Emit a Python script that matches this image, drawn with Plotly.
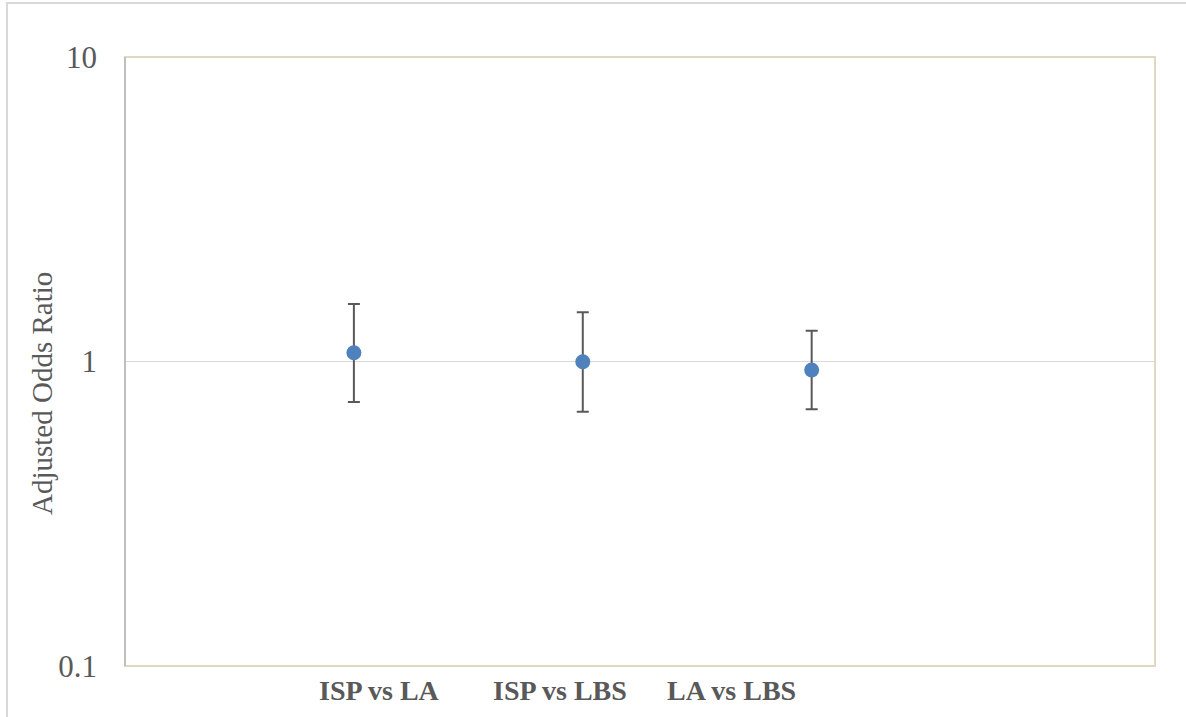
import plotly.graph_objects as go

categories = ["ISP vs LA", "ISP vs LBS", "LA vs LBS"]
positions = [1, 2, 3]
odds_ratio = [1.069, 0.998, 0.938]
ci_upper = [1.544, 1.451, 1.262]
ci_lower = [0.736, 0.684, 0.697]
label_left = [0.839, 1.599, 2.359]
y_ticks = [0.1, 1, 10]
y_tick_text = ["0.1", "1", "10"]

W, H = 1186, 717
ml, mr, mt, mb = 125, 31, 57, 51
pw, ph = W - ml - mr, H - mt - mb

def px_x(p):
    return (p - ml) / pw

def px_y(p):
    return 1 - (p - mt) / ph

fig = go.Figure()
fig.add_trace(go.Scatter(
    x=positions, y=odds_ratio, mode="markers",
    marker=dict(color="#4f81bd", size=15),
    error_y=dict(type="data", symmetric=False,
                 array=[u - v for u, v in zip(ci_upper, odds_ratio)],
                 arrayminus=[v - l for v, l in zip(odds_ratio, ci_lower)],
                 color="#595959", thickness=2, width=6),
    showlegend=False, cliponaxis=False,
))

font_serif = "Liberation Serif, Times New Roman, serif"

for lx, txt in zip(label_left, categories):
    fig.add_annotation(x=lx, y=px_y(690), xref="x", yref="paper", text="<b>" + txt + "</b>",
                       showarrow=False, xanchor="left", yanchor="middle",
                       font=dict(family=font_serif, size=28, color="#595959"))

fig.add_annotation(x=px_x(42), y=px_y(394), xref="paper", yref="paper",
                   text="Adjusted Odds Ratio", textangle=-90, showarrow=False,
                   xanchor="center", yanchor="middle",
                   font=dict(family=font_serif, size=29, color="#595959"))

# plot area border (beige)
fig.add_shape(type="rect", xref="paper", yref="paper", x0=0, x1=1, y0=0, y1=1,
              line=dict(color="#ddd9c3", width=2), layer="below")
# left axis line (gray)
fig.add_shape(type="line", xref="paper", yref="paper", x0=0, x1=0, y0=0, y1=1,
              line=dict(color="#bfbfbf", width=2), layer="above")
# outer chart border
fig.add_shape(type="path", xref="paper", yref="paper",
              path=f"M {px_x(7)} {px_y(717)} L {px_x(7)} {px_y(3)} L {px_x(1186)} {px_y(3)}",
              line=dict(color="#d9d9d9", width=2))

fig.update_layout(
    width=W, height=H,
    margin=dict(l=ml, r=mr, t=mt, b=mb),
    paper_bgcolor="white", plot_bgcolor="white",
    xaxis=dict(range=[0, 4.5], showticklabels=False, showgrid=False, zeroline=False,
               showline=False, ticks=""),
    yaxis=dict(type="log", range=[-1, 1], tickvals=y_ticks, ticktext=y_tick_text,
               showgrid=True, gridcolor="#d9d9d9", gridwidth=1, zeroline=False,
               showline=False, ticks="", ticklabelstandoff=27,
               tickfont=dict(family=font_serif, size=31, color="#595959")),
)

fig.write_html("out.html", config={"displayModeBar": False},
               post_script="document.body.style.margin='0px';document.body.style.overflow='hidden';")
